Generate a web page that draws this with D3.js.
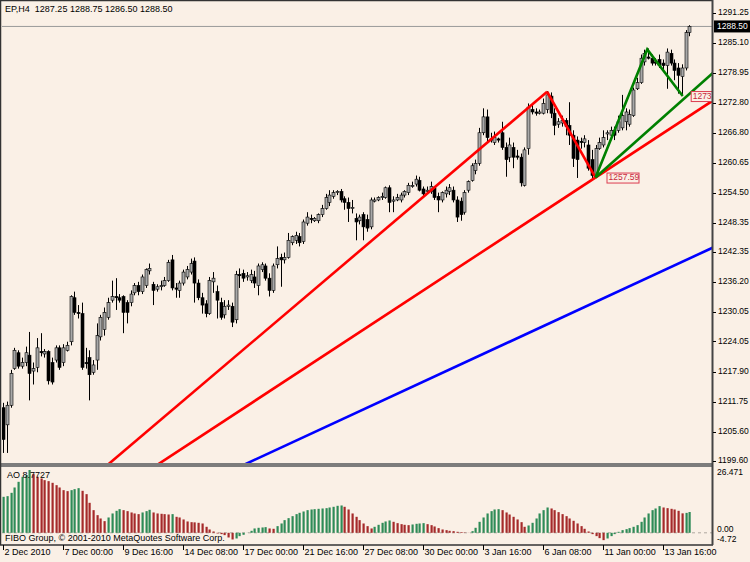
<!DOCTYPE html>
<html><head><meta charset="utf-8">
<script src="https://cdn.jsdelivr.net/npm/d3@7"></script>
<style>
body{margin:0;background:#FAF0E6}
svg text{font-family:"Liberation Sans",Arial,sans-serif;font-size:9px;white-space:pre}
svg text.ax{font-size:8.5px}
</style>
</head><body>
<svg id="c" width="750" height="562"></svg>
<script>
// ---------------- DATA ----------------
const symbolTitle = "EP,H4  1287.25 1288.75 1286.50 1288.50";
const opens = [
1210.5,1207.0,1211.0,1218.5,1221.75,1219.0,1219.75,1221.25,1218.0,1218.75,
1222.0,1221.5,1222.0,1219.75,1220.25,1222.75,1219.75,1222.25,1224.0,1233.0,
1230.0,1229.75,1219.75,1220.75,1217.75,1220.25,1225.0,1226.5,1229.0,1232.5,
1233.25,1233.0,1233.25,1232.0,1232.0,1234.0,1235.5,1234.25,1235.5,1238.5,
1235.75,1234.75,1235.25,1235.5,1236.5,1240.75,1235.0,1234.5,1236.0,1237.25,
1238.25,1240.5,1236.0,1233.0,1231.75,1229.75,1236.25,1234.25,1232.0,1229.5,
1231.25,1231.25,1228.5,1237.75,1238.0,1237.25,1236.5,1237.25,1235.5,1238.75,
1239.5,1237.0,1234.5,1239.75,1241.25,1240.75,1241.25,1244.25,1244.75,1245.5,
1244.5,1248.25,1249.25,1248.75,1248.75,1250.0,1251.25,1252.5,1253.75,1254.5,
1254.75,1253.25,1252.5,1251.25,1249.25,1248.75,1250.0,1249.0,1247.5,1252.75,
1253.0,1253.5,1253.5,1255.5,1252.75,1253.0,1253.0,1254.0,1254.5,1255.75,
1256.25,1257.0,1255.25,1254.75,1254.75,1255.5,1253.75,1253.0,1254.25,1254.75,
1255.0,1253.0,1252.75,1250.5,1255.0,1257.0,1259.0,1260.5,1266.75,1270.0,
1265.5,1264.75,1265.5,1266.75,1263.75,1261.75,1263.75,1262.0,1261.75,1256.0,
1263.5,1271.5,1271.0,1270.75,1270.75,1271.5,1274.25,1270.75,1268.5,1268.75,
1269.25,1268.25,1266.25,1265.25,1265.0,1264.75,1264.25,1261.25,1258.0,1263.5,
1264.25,1266.5,1266.25,1267.25,1267.25,1267.75,1269.0,1268.5,1270.25,1275.75,
1277.0,1281.25,1282.25,1282.0,1281.25,1281.75,1281.0,1280.5,1283.0,1281.0,
1280.0,1278.25,1280.0,1287.25];
const highs = [
1211.5,1211.75,1218.25,1222.75,1222.25,1220.75,1223.0,1226.0,1219.75,1224.75,
1225.75,1222.5,1222.25,1220.75,1223.25,1223.25,1223.5,1224.0,1233.5,1234.25,
1231.5,1232.0,1222.75,1222.25,1220.25,1227.75,1229.5,1231.0,1233.0,1236.5,
1237.0,1233.75,1233.5,1232.5,1234.5,1236.0,1236.25,1237.75,1239.0,1240.0,
1236.25,1235.75,1236.5,1237.25,1240.75,1241.75,1236.0,1236.5,1238.75,1239.5,
1241.0,1241.25,1236.75,1234.0,1232.5,1237.25,1238.25,1235.5,1233.0,1232.5,
1232.5,1232.0,1238.5,1239.0,1238.75,1238.25,1238.75,1238.5,1240.0,1240.25,
1240.0,1238.0,1240.0,1243.5,1242.0,1242.25,1246.25,1245.75,1246.5,1246.25,
1249.0,1250.5,1250.0,1249.5,1250.25,1252.0,1254.25,1255.0,1255.0,1255.0,
1255.25,1253.75,1253.5,1253.0,1250.25,1250.0,1250.5,1250.0,1253.5,1253.5,
1253.75,1254.5,1255.75,1256.0,1253.75,1254.25,1254.5,1255.0,1256.5,1256.75,
1258.0,1257.75,1255.75,1255.75,1256.75,1255.75,1254.5,1254.75,1255.75,1256.25,
1255.75,1253.75,1253.5,1255.0,1257.0,1260.5,1261.25,1267.75,1271.75,1271.5,
1266.75,1267.0,1265.75,1269.0,1264.75,1265.75,1264.75,1263.25,1262.5,1263.75,
1272.75,1272.75,1271.75,1271.5,1273.75,1275.25,1275.0,1271.75,1269.75,1270.25,
1269.75,1273.0,1267.25,1266.0,1265.75,1266.25,1265.25,1263.25,1264.25,1265.75,
1267.25,1267.25,1268.0,1268.0,1270.25,1274.5,1271.75,1271.5,1276.0,1278.0,
1282.75,1283.75,1284.0,1282.75,1282.0,1282.75,1281.75,1284.0,1283.75,1281.75,
1281.0,1280.75,1287.75,1288.75];
const lows = [
1201.25,1201.25,1210.5,1218.25,1218.5,1218.5,1219.0,1212.0,1215.25,1217.75,
1221.0,1220.75,1215.25,1215.25,1219.75,1218.25,1219.0,1222.0,1223.25,1229.5,
1228.75,1218.25,1218.5,1212.0,1217.25,1218.25,1224.25,1225.25,1228.5,1232.0,
1230.5,1232.0,1225.75,1227.75,1231.25,1233.5,1233.5,1233.75,1235.0,1237.75,
1231.5,1234.25,1234.5,1235.25,1236.25,1234.5,1233.0,1233.0,1235.5,1236.75,
1237.75,1232.0,1232.5,1229.75,1229.0,1229.5,1234.0,1228.75,1228.5,1228.75,
1230.5,1227.0,1227.75,1235.0,1236.25,1236.5,1236.0,1235.0,1233.5,1238.25,
1236.5,1233.25,1234.0,1239.0,1235.25,1240.0,1241.0,1243.75,1244.0,1243.5,
1244.0,1247.75,1248.25,1248.5,1248.25,1249.5,1251.0,1251.75,1253.25,1254.0,
1252.5,1251.0,1248.5,1250.25,1244.75,1248.0,1244.75,1246.5,1247.0,1252.5,
1252.75,1253.0,1253.25,1250.5,1250.5,1252.75,1252.5,1253.5,1254.0,1255.5,
1255.75,1254.75,1253.75,1254.5,1254.25,1253.0,1250.5,1252.5,1253.5,1254.0,
1252.5,1248.5,1248.75,1250.0,1254.5,1256.75,1258.25,1260.0,1266.25,1264.75,
1264.75,1264.25,1264.75,1263.25,1257.75,1260.75,1259.5,1261.25,1255.75,1255.75,
1262.25,1270.5,1270.25,1270.5,1270.5,1270.75,1269.75,1266.25,1267.75,1268.0,
1266.25,1264.25,1259.75,1257.5,1263.5,1263.75,1259.0,1257.5,1257.5,1263.25,
1263.75,1265.25,1265.75,1265.25,1266.75,1267.25,1267.25,1268.0,1270.0,1275.5,
1276.75,1280.5,1281.75,1280.5,1280.5,1280.0,1279.5,1275.75,1280.5,1277.5,
1274.75,1274.25,1279.5,1286.5];
const closes = [
1204.0,1211.0,1217.5,1222.25,1219.0,1219.75,1221.75,1217.5,1218.5,1222.75,
1221.75,1222.0,1216.0,1215.75,1222.75,1218.75,1222.75,1223.25,1233.25,1230.0,
1229.75,1218.75,1219.5,1217.25,1219.25,1225.25,1229.0,1230.0,1232.0,1233.25,
1233.0,1232.5,1230.0,1230.0,1233.75,1235.5,1234.25,1237.25,1238.75,1239.0,
1234.5,1235.25,1235.5,1236.5,1240.25,1235.0,1234.75,1236.0,1238.25,1238.75,
1240.0,1236.0,1233.0,1231.5,1229.75,1236.5,1237.0,1232.5,1229.0,1231.25,
1231.5,1228.0,1237.75,1237.5,1237.0,1237.5,1237.75,1236.0,1239.5,1239.75,
1237.0,1234.5,1239.5,1241.0,1240.75,1241.25,1244.75,1245.5,1245.75,1244.25,
1248.5,1249.5,1249.0,1249.25,1250.0,1251.25,1253.5,1254.0,1254.5,1254.75,
1253.0,1252.5,1251.25,1251.5,1248.5,1249.5,1247.5,1247.25,1253.0,1253.0,
1253.5,1253.75,1255.5,1252.5,1253.0,1253.5,1254.0,1254.75,1256.0,1256.0,
1257.25,1255.0,1254.25,1255.0,1255.75,1253.5,1253.0,1254.5,1255.0,1255.5,
1253.0,1249.5,1250.0,1254.5,1256.75,1260.0,1260.5,1266.75,1270.0,1265.75,
1265.25,1265.75,1265.25,1263.75,1261.25,1264.25,1261.75,1261.75,1256.5,1263.25,
1272.0,1271.0,1270.75,1271.0,1272.75,1274.5,1270.75,1268.25,1269.0,1269.25,
1268.0,1266.25,1261.5,1261.25,1264.75,1265.5,1259.5,1258.0,1263.5,1264.75,
1265.75,1266.75,1267.25,1266.25,1269.0,1270.25,1271.0,1270.5,1275.5,1277.0,
1282.0,1283.0,1282.0,1281.0,1281.0,1280.5,1280.5,1283.25,1281.0,1279.5,
1278.5,1280.0,1287.25,1288.5];
const aoValues = [
15.17,15.45,16.85,19.10,21.49,23.60,24.30,26.47,24.72,23.60,
22.89,22.19,21.77,21.07,20.08,19.10,17.98,17.56,17.98,18.40,
18.82,17.70,16.29,12.64,9.55,7.44,6.04,4.92,6.46,8.15,
9.27,9.97,9.55,9.13,8.57,8.15,7.87,8.57,9.13,9.69,
8.57,8.15,8.01,7.87,7.72,7.87,6.74,6.46,5.62,4.78,
4.49,4.40,4.21,3.93,2.53,1.40,0.56,-0.28,-0.56,-0.98,
-1.97,-2.81,-2.39,-1.40,-0.84,0.05,0.84,1.83,2.11,2.25,
2.39,1.83,1.69,2.81,3.93,5.34,6.18,7.02,7.87,8.43,
8.99,9.55,9.83,9.97,10.11,10.25,10.39,10.67,10.96,11.38,
11.52,10.96,9.83,8.15,6.74,5.34,3.93,2.81,1.83,2.53,
3.37,4.21,4.78,5.20,4.63,4.07,3.65,3.37,3.23,3.51,
3.79,3.93,4.07,3.65,3.23,2.67,1.97,1.40,1.12,0.84,
0.70,0.42,0.28,0.14,0.05,0.70,2.11,4.63,6.46,8.15,
9.13,9.83,9.97,9.55,8.57,7.72,6.74,5.62,4.49,2.53,
3.09,4.21,6.04,8.15,9.55,10.67,10.25,9.55,8.71,7.87,
7.02,6.04,5.06,3.93,2.81,1.69,0.56,-0.56,-1.40,-2.25,
-3.09,-2.39,-1.40,-0.56,0.42,1.12,1.54,1.97,2.53,3.23,
4.63,6.46,8.15,9.55,10.25,11.24,10.67,10.39,10.11,9.83,
9.27,8.20,8.40,8.77];
const aoLabel = "AO 8.7727";
const aoAxisLabels = ["26.471","0.00","-4.72"];
const priceTicks = [1291.25,1285.10,1278.95,1272.80,1266.80,1260.65,1254.50,1248.35,1242.35,1236.20,1230.05,1224.05,1217.90,1211.75,1205.60,1199.60];
const lastPrice = 1288.50;
const timeTickIndex = [0,16,32,48,64,80,96,112,128,144,160,176];
const timeTickLabels = ["2 Dec 2010","7 Dec 00:00","9 Dec 16:00","14 Dec 08:00","17 Dec 00:00","21 Dec 16:00","27 Dec 08:00","30 Dec 00:00","3 Jan 16:00","6 Jan 08:00","11 Jan 00:00","13 Jan 16:00"];
// drawn objects: [bar index, price] anchors
const redTrend1 = [[28.5,1199.2],[145.1,1275.14]];
const redZigzag = [[145.1,1275.14],[158,1257.59]];
const redTrend2 = [[41.9,1199.2],[158,1257.59]];
const blueTrend = [[65.3,1199.2],[189.3,1243.26]];
const greenZigzag = [[158,1257.59],[171.8,1283.8],[181.25,1274.26]];
const greenTrend = [[158,1257.59],[189.3,1278.96]];
const priceLabels = [{i:158,p:1257.59,text:"1257.59"},{i:181.25,p:1274.26,text:"1273.96"}];
const footer = "FIBO Group, \u00a9 2001-2010 MetaQuotes Software Corp.";

// ---------------- CHART ----------------
const W=750,H=562;
const plotL=2, plotR=712, mainTop=2, mainBot=463, aoTop=467, aoBot=545;
const svg=d3.select("#c");
svg.append("rect").attr("width",W).attr("height",H).attr("fill","#FAF0E6");
const defs=svg.append("defs");
defs.append("clipPath").attr("id","cm").append("rect").attr("x",plotL).attr("y",mainTop).attr("width",plotR-plotL).attr("height",mainBot-mainTop);
defs.append("clipPath").attr("id","ca").append("rect").attr("x",plotL).attr("y",aoTop).attr("width",plotR-plotL).attr("height",aoBot-aoTop);

const n=closes.length;
const x=d3.scaleLinear().domain([0,183]).range([3,689.25]);
const y=d3.scaleLinear().domain([1199.6,1291.25]).range([461,13]);
const ya=d3.scaleLinear().domain([-4.72,26.471]).range([544,470]);

// current price line
svg.append("line").attr("x1",plotL).attr("x2",plotR).attr("y1",y(lastPrice)).attr("y2",y(lastPrice))
  .attr("stroke","#9a9a9a").attr("stroke-width",1);

const gm=svg.append("g").attr("clip-path","url(#cm)");
const idx=d3.range(n);
gm.selectAll("line.w").data(idx).join("line").attr("class","w")
  .attr("x1",i=>Math.round(x(i))+0.5).attr("x2",i=>Math.round(x(i))+0.5)
  .attr("y1",i=>y(highs[i])).attr("y2",i=>y(lows[i]))
  .attr("stroke","#000").attr("stroke-width",1);
gm.selectAll("rect.b").data(idx).join("rect").attr("class","b")
  .attr("x",i=>Math.round(x(i))-1)
  .attr("width",3)
  .attr("y",i=>y(Math.max(opens[i],closes[i])))
  .attr("height",i=>Math.max(1,Math.abs(y(opens[i])-y(closes[i]))))
  .attr("fill",i=>closes[i]>=opens[i]?"#a8a8a8":"#000")
  .attr("stroke","#000").attr("stroke-width",0.6);

function ext(a,b,i0,i1){
  const s=(b[1]-a[1])/(b[0]-a[0]);
  return [[i0,a[1]+s*(i0-a[0])],[i1,a[1]+s*(i1-a[0])]];
}
const lineGen=d3.line().x(d=>x(d[0])).y(d=>y(d[1]));
function drawLine(pts,color){
  gm.append("path").attr("d",lineGen(pts)).attr("fill","none").attr("stroke",color)
    .attr("stroke-width",2.6).attr("stroke-linejoin","miter");
}
drawLine(ext(blueTrend[0],blueTrend[1],50,192),"#0000ff");
drawLine(ext(redTrend2[0],redTrend2[1],30,192),"#ff0000");
drawLine([ext(redTrend1[0],redTrend1[1],20,145.1)[0],redTrend1[1]],"#ff0000");
drawLine(redZigzag,"#ff0000");
drawLine(ext(greenTrend[0],greenTrend[1],158,192),"#008000");
drawLine(greenZigzag,"#008000");

priceLabels.forEach((L,k)=>{
  const px=x(L.i)+(k===0?11:8), py=y(L.p);
  gm.append("rect").attr("x",px+0.5).attr("y",py-4.5).attr("width",32).attr("height",10)
    .attr("fill","#FAF0E6").attr("stroke","#dc3c50").attr("stroke-width",1);
  gm.append("text").attr("x",px+2).attr("y",py+0.5).attr("dominant-baseline","middle")
    .attr("fill","#c8283c").style("font-size","8.5px").text(L.text);
});

svg.append("text").attr("x",5).attr("y",10).attr("dominant-baseline","middle").attr("fill","#000").text(symbolTitle);

// AO panel
svg.append("line").attr("x1",plotL).attr("x2",plotR).attr("y1",ya(0)).attr("y2",ya(0))
  .attr("stroke","#b0a8a0").attr("stroke-dasharray","3,3").attr("stroke-width",1);
const ga=svg.append("g").attr("clip-path","url(#ca)");
ga.selectAll("rect").data(idx).join("rect")
  .attr("x",i=>Math.round(x(i))-0.5).attr("width",2.2)
  .attr("y",i=>ya(Math.max(0,aoValues[i])))
  .attr("height",i=>Math.abs(ya(aoValues[i])-ya(0)))
  .attr("fill",i=>(i===0||aoValues[i]>aoValues[i-1])?"#2e8b57":"#a52a2a");
svg.append("text").attr("x",7).attr("y",476).attr("dominant-baseline","middle").attr("fill","#000").text(aoLabel);
svg.append("text").attr("x",5).attr("y",539).attr("dominant-baseline","middle").attr("fill","#000").text(footer);

// separator & frame
svg.append("rect").attr("x",0).attr("y",mainBot).attr("width",plotR+1).attr("height",4).attr("fill","#7c7c7c");
svg.append("line").attr("x1",0.5).attr("x2",0.5).attr("y1",0).attr("y2",aoBot).attr("stroke","#333").attr("stroke-width",1.5);
svg.append("line").attr("x1",0).attr("x2",plotR+1).attr("y1",0.5).attr("y2",0.5).attr("stroke","#333").attr("stroke-width",1.5);
svg.append("line").attr("x1",0).attr("x2",plotR+1).attr("y1",aoBot).attr("y2",aoBot).attr("stroke","#333").attr("stroke-width",1.5);
svg.append("line").attr("x1",plotR+0.5).attr("x2",plotR+0.5).attr("y1",0).attr("y2",aoBot).attr("stroke","#444").attr("stroke-width",2);

// price axis
priceTicks.forEach(p=>{
  svg.append("line").attr("x1",plotR+1).attr("x2",plotR+4).attr("y1",Math.round(y(p))+0.5).attr("y2",Math.round(y(p))+0.5).attr("stroke","#000");
  svg.append("text").attr("class","ax").attr("x",plotR+6).attr("y",y(p)).attr("dominant-baseline","middle").attr("fill","#000").text(p.toFixed(2));
});
svg.append("rect").attr("x",plotR+2).attr("y",y(lastPrice)-6).attr("width",36).attr("height",12).attr("fill","#000");
svg.append("text").attr("class","ax").attr("x",plotR+5).attr("y",y(lastPrice)).attr("dominant-baseline","middle").attr("fill","#fff").text(lastPrice.toFixed(2));

// AO axis
const aoLabelY=[473,530,539.5];
aoAxisLabels.forEach((t,k)=>{
  svg.append("text").attr("class","ax").attr("x",plotR+5).attr("y",aoLabelY[k]).attr("dominant-baseline","middle").attr("fill","#000").text(t);
});

// time axis
timeTickIndex.forEach((ti,k)=>{
  const tx=Math.round(x(ti))+0.5;
  svg.append("line").attr("x1",tx).attr("x2",tx).attr("y1",aoBot).attr("y2",aoBot+5).attr("stroke","#000");
  svg.append("text").attr("x",tx+1).attr("y",553).attr("dominant-baseline","middle").attr("fill","#000").text(timeTickLabels[k]);
});
</script>
</body></html>
